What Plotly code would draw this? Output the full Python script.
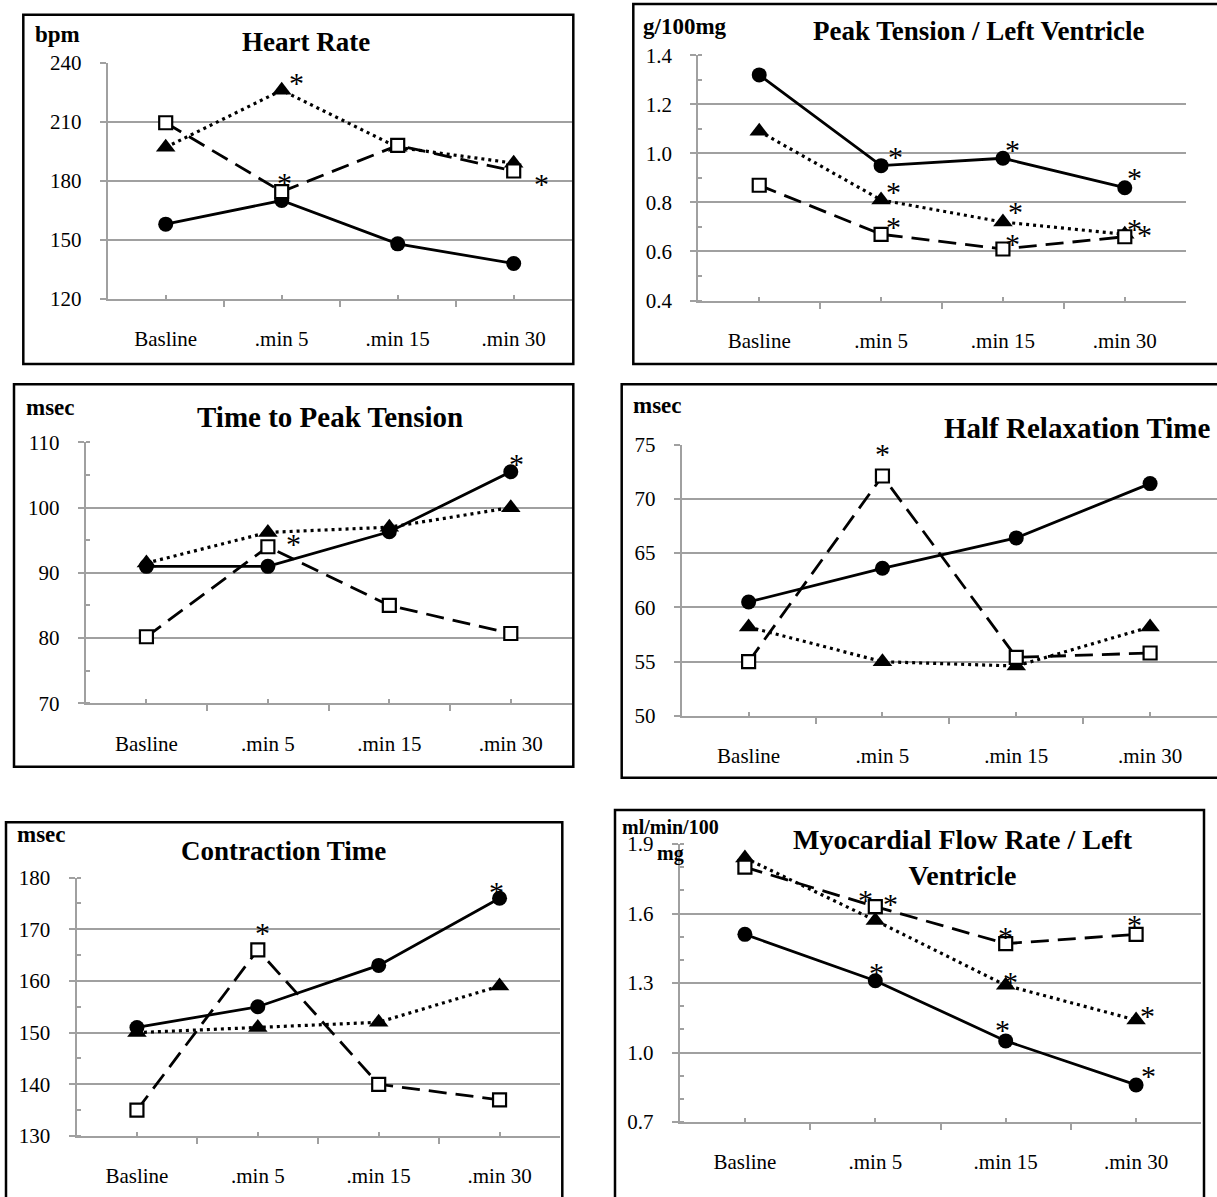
import plotly.graph_objects as go

# ---------------- data ----------------
categories = ["Basline", ".min 5", ".min 15", ".min 30"]

hr_circle = [158, 170, 148, 138]
hr_triangle = [197, 226, 197, 189]
hr_square = [209.5, 174.5, 198, 185]

pt_circle = [1.32, 0.95, 0.98, 0.86]
pt_triangle = [1.09, 0.81, 0.72, 0.67]
pt_square = [0.87, 0.67, 0.61, 0.66]

ttp_circle = [91, 91, 96.3, 105.5]
ttp_triangle = [91.5, 96.2, 97, 100]
ttp_square = [80.2, 94, 85, 80.7]

hrt_circle = [60.5, 63.6, 66.4, 71.4]
hrt_triangle = [58.2, 55.0, 54.6, 58.2]
hrt_square = [55.0, 72.1, 55.4, 55.8]

ct_circle = [151, 155, 163, 176]
ct_triangle = [150, 151, 152, 159]
ct_square = [135, 166, 140, 137]

mfr_circle = [1.51, 1.31, 1.05, 0.86]
mfr_triangle = [1.84, 1.57, 1.29, 1.14]
mfr_square = [1.80, 1.63, 1.47, 1.51]

titles = ["Heart Rate", "Peak Tension / Left Ventricle", "Time to Peak Tension",
          "Half Relaxation Time", "Contraction Time", "Myocardial Flow Rate / Left<br>Ventricle"]
units = ["bpm", "g/100mg", "msec", "msec", "msec", "ml/min/100<br>mg"]

# significant points (series, category index)
hr_sig = [("triangle", 1), ("square", 1), ("square", 3)]
pt_sig = [("circle", 1), ("triangle", 1), ("square", 1),
          ("circle", 2), ("triangle", 2), ("square", 2),
          ("circle", 3), ("triangle", 3), ("square", 3)]
ttp_sig = [("circle", 3), ("triangle", 1)]
hrt_sig = [("square", 1)]
ct_sig = [("square", 1), ("circle", 3)]
mfr_sig = [("square", 1), ("triangle", 1), ("circle", 1),
           ("square", 2), ("triangle", 2), ("circle", 2),
           ("square", 3), ("triangle", 3), ("circle", 3)]

series = [
    (hr_circle, hr_triangle, hr_square),
    (pt_circle, pt_triangle, pt_square),
    (ttp_circle, ttp_triangle, ttp_square),
    (hrt_circle, hrt_triangle, hrt_square),
    (ct_circle, ct_triangle, ct_square),
    (mfr_circle, mfr_triangle, mfr_square),
]
sigs = [hr_sig, pt_sig, ttp_sig, hrt_sig, ct_sig, mfr_sig]

# y axis scales: (min, max, major step, minor step or None, format)
yscales = [
    (120, 240, 30, None, None),
    (0.4, 1.4, 0.2, 0.1, ".1f"),
    (70, 110, 10, 5, None),
    (50, 75, 5, None, None),
    (130, 180, 10, 5, None),
    (0.7, 1.9, 0.3, 0.1, ".1f"),
]

# ---------------- geometry / style (pixels) ----------------
W, H = 1217, 1197
GEOM = [
    dict(box=(23.3, 14.7, 573.3, 364), px=(107.7, 571.7), py=(62.7, 299),
         title=(305.6, 42), tsize=27, unit=(33, 35)),
    dict(box=(633.3, 4, 1222, 364), px=(698.3, 1185.7), py=(55.3, 300.5),
         title=(978.6, 31.5), tsize=27, unit=(641, 26)),
    dict(box=(14, 384.3, 573.3, 766.7), px=(85.7, 571.5), py=(442.4, 703.3),
         title=(330, 417), tsize=29, unit=(23.6, 407.5)),
    dict(box=(621.7, 384.3, 1222, 777.7), px=(681.7, 1217), py=(444.5, 716),
         title=(1077, 428), tsize=29, unit=(631, 405)),
    dict(box=(6, 822.3, 562.3, 1205), px=(76.5, 560), py=(877.5, 1136),
         title=(283, 851), tsize=27, unit=(15, 834)),
    dict(box=(615, 810, 1204, 1205), px=(679.7, 1201.3), py=(844, 1122),
         title=(963, 857), tsize=28, unit=(670, 840.5)),
]
# asterisk offsets (px, right / up) in the same order as the sig lists
AST_OFF = [
    [(14.5, 16.5), (3, 18), (28, -3)],
    [(14.6, 18), (12, 17), (12, 16.5), (10, 18), (13, 20), (10, 15), (10, 19), (10, 15), (20, 11)],
    [(6, 17), (26, -2)],
    [(0, 31.5)],
    [(5, 26), (-3, 16)],
    [(-10, 16), (15, 26), (1, 17), (0, 16), (5, 13), (-3, 20), (-2, 19), (11, 14), (12, 18)],
]
AST_GLYPH_RAISE = 9

FONT = "Liberation Serif, Times New Roman, serif"
GRID = "#a0a0a0"

STYLE = {
    "circle": dict(line=dict(color="black", width=2.8, dash="solid"),
                   marker=dict(symbol="circle", size=15, color="black")),
    "triangle": dict(line=dict(color="black", width=3.2, dash="3px,4px"),
                     marker=dict(symbol="triangle-up", size=17, color="black")),
    "square": dict(line=dict(color="black", width=2.8, dash="18px,9px"),
                   marker=dict(symbol="square", size=13, color="white",
                               line=dict(color="black", width=2.2))),
}


def px2x(v):
    return v / W


def px2y(v):
    return 1 - v / H


fig = go.Figure()
shapes = []
annotations = []
names = ["circle", "triangle", "square"]

for i in range(6):
    n = i + 1
    xa = "x" if n == 1 else f"x{n}"
    ya = "y" if n == 1 else f"y{n}"
    g = GEOM[i]
    vals = dict(zip(names, series[i]))
    for name in ["circle", "triangle", "square"]:
        st = STYLE[name]
        fig.add_trace(go.Scatter(
            x=list(range(len(categories))), y=vals[name], mode="lines+markers",
            line=st["line"], marker=st["marker"], xaxis=xa, yaxis=ya,
            showlegend=False, hoverinfo="skip", cliponaxis=False))

    ymin, ymax, step, minor, fmt = yscales[i]
    yax = dict(
        domain=[px2y(g["py"][1]), px2y(g["py"][0])],
        range=[ymin, ymax], tickmode="linear", tick0=ymin, dtick=step,
        showgrid=True, gridcolor=GRID, gridwidth=2, zeroline=False,
        showline=True, linecolor=GRID, linewidth=2,
        ticks="outside", ticklen=6, tickwidth=2, tickcolor=GRID,
        ticklabelstandoff=14, automargin=False,
        tickfont=dict(family=FONT, size=21, color="black"),
        anchor=xa, fixedrange=True,
    )
    if fmt:
        yax["tickformat"] = fmt
    if minor:
        yax["minor"] = dict(tick0=ymin, dtick=minor, ticks="inside", ticklen=4,
                            tickwidth=2, tickcolor=GRID, showgrid=False)
    xax = dict(
        domain=[px2x(g["px"][0]), px2x(g["px"][1])],
        range=[-0.5, 3.5], tickmode="array", tickvals=list(range(4)),
        ticktext=categories, showgrid=False, zeroline=False,
        showline=True, linecolor=GRID, linewidth=2,
        ticks="inside", ticklen=4, tickwidth=2, tickcolor=GRID,
        minor=dict(tickmode="linear", tick0=-0.5, dtick=1, ticks="outside",
                   ticklen=6, tickwidth=2, tickcolor=GRID, showgrid=False),
        ticklabelstandoff=20, automargin=False,
        tickfont=dict(family=FONT, size=21, color="black"),
        anchor=ya, fixedrange=True,
    )
    fig.update_layout(**{("xaxis" if n == 1 else f"xaxis{n}"): xax,
                         ("yaxis" if n == 1 else f"yaxis{n}"): yax})

    # panel frame
    x0, y0, x1, y1 = g["box"]
    shapes.append(dict(type="rect", xref="paper", yref="paper",
                       x0=px2x(x0), x1=px2x(x1), y0=px2y(y1), y1=px2y(y0),
                       line=dict(color="black", width=2.5), layer="above"))
    # title
    annotations.append(dict(xref="paper", yref="paper", x=px2x(g["title"][0]),
                            y=px2y(g["title"][1]), xanchor="center", yanchor="middle",
                            text=f"<b>{titles[i]}</b>", showarrow=False,
                            font=dict(family=FONT, size=g["tsize"], color="black")))
    # unit
    if i == 5:
        annotations.append(dict(xref="paper", yref="paper", x=px2x(g["unit"][0]),
                                y=px2y(g["unit"][1]), xanchor="center", yanchor="middle",
                                align="center", text=f"<b>{units[i]}</b>", showarrow=False,
                                font=dict(family=FONT, size=20, color="black")))
    else:
        annotations.append(dict(xref="paper", yref="paper", x=px2x(g["unit"][0]),
                                y=px2y(g["unit"][1]), xanchor="left", yanchor="middle",
                                text=f"<b>{units[i]}</b>", showarrow=False,
                                font=dict(family=FONT, size=23, color="black")))
    # asterisks
    for (sname, idx), (dx, dy) in zip(sigs[i], AST_OFF[i]):
        annotations.append(dict(xref=xa, yref=ya, x=idx, y=vals[sname][idx],
                                text="*", showarrow=False, xshift=dx,
                                yshift=dy - AST_GLYPH_RAISE,
                                font=dict(family=FONT, size=30, color="black")))

fig.update_layout(
    width=W, height=H, margin=dict(l=0, r=0, t=0, b=0, pad=0, autoexpand=False),
    paper_bgcolor="white", plot_bgcolor="white",
    shapes=shapes, annotations=annotations, showlegend=False,
)

fig.write_html("out.html", config={"displayModeBar": False},
               post_script="document.body.style.margin='0px';document.body.style.overflow='hidden';")
